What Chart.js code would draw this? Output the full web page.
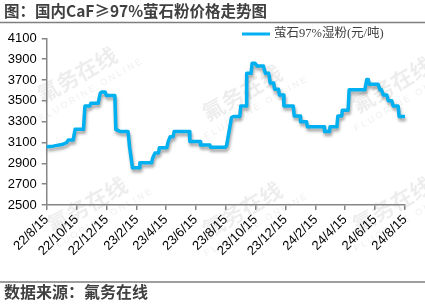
<!DOCTYPE html>
<html>
<head>
<meta charset="utf-8">
<script src="https://cdn.jsdelivr.net/npm/chart.js@4/dist/chart.umd.min.js"></script>
<style>
  html, body { margin: 0; padding: 0; background: #ffffff; }
  #wrap { position: relative; width: 425px; height: 305px; }
</style>
</head>
<body>
<div id="wrap"><canvas id="c" width="425" height="305"></canvas></div>
<script>
// ---- data ----
const startDate = '2022-08-15';
const dates = [
  '2022-08-15','2022-08-28','2022-09-15','2022-09-25','2022-09-28','2022-10-08','2022-10-12','2022-10-29',
  '2022-11-01','2022-11-11','2022-11-13','2022-11-28','2022-12-02','2022-12-05','2022-12-12','2022-12-15',
  '2023-01-01','2023-01-03','2023-01-12','2023-01-28','2023-01-31','2023-02-06','2023-02-20','2023-02-21',
  '2023-03-17','2023-03-19','2023-03-24','2023-03-31','2023-04-02','2023-04-17','2023-04-20','2023-04-24',
  '2023-04-30','2023-05-02','2023-06-02','2023-06-03','2023-06-24','2023-06-25','2023-07-14','2023-07-15',
  '2023-08-14','2023-08-17','2023-08-27','2023-08-31','2023-09-13','2023-09-15','2023-09-26','2023-09-27',
  '2023-10-06','2023-10-08','2023-10-14','2023-10-18','2023-10-31','2023-11-04','2023-11-11','2023-11-14',
  '2023-11-21','2023-11-23','2023-12-01','2023-12-03','2023-12-11','2023-12-12','2023-12-31','2024-01-02',
  '2024-01-14','2024-01-15','2024-01-27','2024-01-29','2024-03-03','2024-03-04','2024-03-14','2024-03-15',
  '2024-03-29','2024-03-31','2024-04-08','2024-04-09','2024-04-21','2024-04-23','2024-05-25','2024-05-29',
  '2024-06-01','2024-06-03','2024-06-21','2024-06-25','2024-06-28','2024-07-02','2024-07-09','2024-07-12',
  '2024-07-19','2024-07-22','2024-08-01','2024-08-03','2024-08-15'
];
const prices = [
  3060,3065,3080,3100,3125,3125,3226,3226,
  3450,3450,3476,3476,3570,3585,3585,3550,
  3550,3226,3205,3205,3060,2858,2858,2905,
  2905,2948,3000,3000,3050,3050,3110,3155,
  3155,3205,3205,3110,3110,3075,3075,3055,
  3055,3070,3340,3350,3350,3450,3450,3765,
  3765,3860,3860,3835,3835,3765,3765,3670,
  3670,3610,3610,3555,3555,3450,3450,3355,
  3355,3300,3300,3250,3250,3205,3205,3250,
  3250,3355,3355,3410,3410,3605,3605,3705,
  3705,3660,3660,3605,3605,3555,3555,3500,
  3500,3450,3450,3350,3350
];
const tickDates = ['2022-08-15','2022-10-15','2022-12-15','2023-02-15','2023-04-15','2023-06-15','2023-08-15',
  '2023-10-15','2023-12-15','2024-02-15','2024-04-15','2024-06-15','2024-08-15'];
const tickLabels = ['22/8/15','22/10/15','22/12/15','23/2/15','23/4/15','23/6/15','23/8/15',
  '23/10/15','23/12/15','24/2/15','24/4/15','24/6/15','24/8/15'];
const seriesName = '萤石97%湿粉(元/吨)';
const titleText = '图：国内CaF≥97%萤石粉价格走势图';
const sourceText = '数据来源：氟务在线';

// ---- helpers ----
function dayOf(s) {
  const [y, m, d] = s.split('-').map(Number);
  const [y0, m0, d0] = startDate.split('-').map(Number);
  return Math.round((Date.UTC(y, m - 1, d) - Date.UTC(y0, m0 - 1, d0)) / 86400000);
}
const points = dates.map((d, i) => ({ x: dayOf(d), y: prices[i] }));
const tickDays = tickDates.map(dayOf);

const AXIS = '#868686';
const LINE = '#00B0F0';

const shadowPlugin = {
  id: 'shadow',
  beforeDatasetDraw(chart) {
    const ctx = chart.ctx;
    ctx.save();
    ctx.shadowColor = 'rgba(0,0,0,0.35)';
    ctx.shadowBlur = 3;
    ctx.shadowOffsetX = 1;
    ctx.shadowOffsetY = 3;
  },
  afterDatasetDraw(chart) { chart.ctx.restore(); }
};

const decorPlugin = {
  id: 'decor',
  beforeDraw(chart) {
    const ctx = chart.ctx;
    ctx.save();
    ctx.fillStyle = '#ffffff';
    ctx.fillRect(0, 0, chart.width, chart.height);
    // faint watermarks
    const marks = [[80, 80], [245, 98], [395, 90], [90, 210], [245, 215], [395, 210]];
    ctx.fillStyle = 'rgba(0,0,0,0.07)';
    marks.forEach(([x, y]) => {
      ctx.save();
      ctx.translate(x, y);
      ctx.rotate(-Math.PI / 6);
      ctx.textAlign = 'center';
      ctx.textBaseline = 'middle';
      ctx.font = 'bold 22px "Noto Sans CJK SC"';
      ctx.fillText('氟务在线', 0, -6);
      ctx.font = '9px "Liberation Sans"';
      ctx.fillText('F L U O R I N E   O N L I N E', 4, 14);
      ctx.restore();
    });
    ctx.restore();
  },
  afterDraw(chart) {
    const ctx = chart.ctx;
    ctx.save();
    // title
    ctx.fillStyle = '#404040';
    ctx.textBaseline = 'middle';
    ctx.textAlign = 'left';
    ctx.font = 'bold 15.5px "Noto Sans CJK SC"';
    ctx.fillText(titleText, 4, 11);
    // rules
    ctx.strokeStyle = '#7f7f7f';
    ctx.lineWidth = 1.5;
    ctx.beginPath(); ctx.moveTo(0, 22.5); ctx.lineTo(425, 22.5); ctx.stroke();
    ctx.beginPath(); ctx.moveTo(0, 282); ctx.lineTo(425, 282); ctx.stroke();
    // legend
    ctx.strokeStyle = LINE;
    ctx.lineWidth = 3;
    ctx.beginPath(); ctx.moveTo(242, 34); ctx.lineTo(270, 34); ctx.stroke();
    ctx.fillStyle = '#404040';
    ctx.font = '12.5px "Liberation Serif", "Noto Sans CJK SC"';
    ctx.fillText(seriesName, 274, 34);
    // footer
    ctx.font = 'bold 16px "Noto Sans CJK SC"';
    ctx.fillText(sourceText, 4, 292);
    ctx.restore();
  }
};

new Chart(document.getElementById('c'), {
  type: 'line',
  data: {
    datasets: [{
      label: seriesName,
      data: points,
      borderColor: LINE,
      backgroundColor: LINE,
      borderWidth: 3.5,
      pointRadius: 0,
      tension: 0,
      fill: false,
      borderJoinStyle: 'round',
      clip: false
    }]
  },
  options: {
    responsive: false,
    animation: false,
    devicePixelRatio: 1,
    layout: { padding: { left: 0, top: 38.3, right: 20, bottom: 0 } },
    plugins: { legend: { display: false }, title: { display: false }, tooltip: { enabled: false } },
    scales: {
      x: {
        type: 'linear',
        min: 0,
        max: tickDays[tickDays.length - 1],
        afterBuildTicks(scale) { scale.ticks = tickDays.map(v => ({ value: v })); },
        afterFit(scale) { scale.height = 100; },
        border: { color: AXIS, width: 1.5 },
        grid: { drawOnChartArea: false, drawTicks: true, tickLength: 5, color: AXIS, lineWidth: 1.5 },
        ticks: {
          autoSkip: false,
          minRotation: 45,
          maxRotation: 45,
          padding: 2,
          color: '#000000',
          font: { family: '"Liberation Sans", Arial', size: 13 },
          callback(value, index) { return tickLabels[index]; }
        }
      },
      y: {
        min: 2500,
        max: 4100,
        afterFit(scale) { scale.width = 46.7; },
        border: { color: AXIS, width: 1.5 },
        grid: { drawOnChartArea: false, drawTicks: true, tickLength: 5, color: AXIS, lineWidth: 1.5 },
        ticks: {
          stepSize: 200,
          padding: 5,
          color: '#000000',
          font: { family: '"Liberation Sans", Arial', size: 13 },
          callback(value) { return String(value); }
        }
      }
    }
  },
  plugins: [shadowPlugin, decorPlugin]
});
</script>
</body>
</html>
